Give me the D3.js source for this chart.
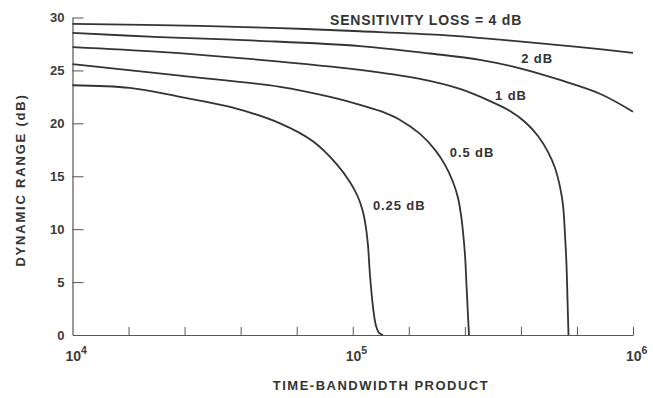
<!DOCTYPE html>
<html>
<head>
<meta charset="utf-8">
<script src="https://cdn.jsdelivr.net/npm/d3@7"></script>
<style>
  html, body { margin: 0; padding: 0; background: #fff; }
  svg { display: block; }
  text { font-family: "Liberation Sans", Arial, Helvetica, sans-serif; }
</style>
</head>
<body>
<svg id="chart" width="653" height="398"></svg>
<script>
// Dynamic range vs. time-bandwidth product, one curve per sensitivity loss.
// Each point: [time-bandwidth product, dynamic range in dB]
const loss4dB = [[1e4, 29.4], [2.85e4, 29.2], [5.5e4, 29.0], [1.061e5, 28.7], [2.048e5, 28.35],
                 [3.354e5, 27.9], [6.47e5, 27.2], [1e6, 26.65]];
const loss2dB = [[1e4, 28.55], [2.05e4, 28.15], [4.67e4, 27.8], [1.061e5, 27.3], [1.887e5, 26.6],
                 [2.846e5, 26.0], [3.953e5, 25.2], [5.49e5, 24.1], [7.62e5, 22.8], [1e6, 21.1]];
const loss1dB = [[1e4, 27.2], [2.05e4, 26.75], [4.67e4, 26.0], [1.061e5, 25.05], [1.738e5, 24.2],
                 [2.414e5, 23.25], [3.088e5, 22.1], [3.64e5, 21.17], [4.118e5, 20.13], [4.581e5, 18.81],
                 [4.973e5, 17.3], [5.268e5, 15.78], [5.49e5, 13.99], [5.626e5, 12.29], [5.72e5, 9.45],
                 [5.79e5, 6.62], [5.839e5, 3.31], [5.886e5, 0]];
const loss05dB = [[1e4, 25.6], [2.42e4, 24.5], [5.5e4, 23.45], [8.3e4, 22.5], [1.061e5, 21.75],
                  [1.251e5, 21.17], [1.475e5, 20.32], [1.738e5, 19.0], [1.966e5, 17.49], [2.134e5, 16.07],
                  [2.279e5, 14.46], [2.375e5, 12.95], [2.434e5, 11.34], [2.474e5, 9.74], [2.515e5, 7.56],
                  [2.546e5, 4.73], [2.577e5, 1.89], [2.599e5, 0]];
const loss025dB = [[1e4, 23.6], [1.6e4, 23.35], [2.42e4, 22.5], [3.65e4, 21.55], [5.5e4, 20.0],
                   [7.21e4, 18.3], [8.79e4, 16.1], [9.77e4, 14.46], [1.044e5, 13.04], [1.088e5, 11.63],
                   [1.115e5, 10.12], [1.133e5, 8.51], [1.152e5, 5.67], [1.181e5, 2.65], [1.211e5, 0.85],
                   [1.241e5, 0.19], [1.282e5, 0]];

const curveLabels = ["SENSITIVITY LOSS = 4 dB", "2 dB", "1 dB", "0.5 dB", "0.25 dB"];
// label anchor points in data units: [tbp, dB] (left end of the baseline)
const curveLabelPos = [[8.3e4, 29.25], [3.99e5, 25.7], [3.22e5, 22.2], [2.22e5, 16.8], [1.18e5, 11.8]];

const yTicks = [0, 5, 10, 15, 20, 25, 30];
const xDecades = [4, 5, 6];
const xMinorExp = [4.2, 4.4, 4.6, 4.8, 5, 5.2, 5.4, 5.6, 5.8, 6];
const xTitle = "TIME-BANDWIDTH PRODUCT";
const yTitle = "DYNAMIC RANGE (dB)";

const svg = d3.select("#chart");
const ink = "#333";
const axisInk = "#555";

const x = d3.scaleLog().domain([1e4, 1e6]).range([72.5, 633]);
const y = d3.scaleLinear().domain([0, 30]).range([335, 17.5]);

// x axis: ticks every 0.2 decade, pointing up into the plot
const xAxis = svg.append("g")
  .attr("transform", `translate(0,${y(0)})`)
  .call(d3.axisBottom(x)
    .tickValues(xMinorExp.map(e => Math.pow(10, e)))
    .tickSizeInner(-8).tickSizeOuter(0).tickFormat(""));
xAxis.select(".domain").attr("stroke", axisInk).attr("stroke-width", 1.2);
xAxis.selectAll(".tick line").attr("stroke", axisInk).attr("stroke-width", 1);

// y axis: ticks pointing right, labels at left
const yAxis = svg.append("g")
  .attr("transform", `translate(${x(1e4)},0)`)
  .call(d3.axisLeft(y).tickValues(yTicks).tickSizeInner(-11).tickSizeOuter(0)
    .tickPadding(8).tickFormat(d3.format("d")));
yAxis.select(".domain").attr("stroke", axisInk).attr("stroke-width", 1.2);
yAxis.selectAll(".tick line").attr("stroke", axisInk).attr("stroke-width", 1)
  .filter(d => d === 0).remove();
yAxis.selectAll(".tick text")
  .attr("fill", "#3a3a3a").attr("font-size", 13).attr("font-weight", "bold")
  .attr("font-family", "Liberation Sans, Arial, sans-serif");

// decade labels with superscript exponents
const decLab = svg.append("g");
xDecades.forEach(e => {
  const t = decLab.append("text")
    .attr("x", x(Math.pow(10, e)) - 7).attr("y", 361)
    .attr("fill", "#3a3a3a").attr("font-size", 14).attr("font-weight", "bold");
  t.append("tspan").text("10");
  t.append("tspan").attr("dy", -7).attr("font-size", 10.5).text(e);
});

// curves
const line = d3.line()
  .x(d => x(d[0])).y(d => y(d[1]))
  .curve(d3.curveCatmullRom.alpha(0.5));
[loss4dB, loss2dB, loss1dB, loss05dB, loss025dB].forEach(s => {
  svg.append("path").datum(s)
    .attr("d", line)
    .attr("fill", "none").attr("stroke", ink)
    .attr("stroke-width", 1.8).attr("stroke-linejoin", "round");
});

// curve labels
svg.append("g").selectAll("text").data(curveLabels).join("text")
  .attr("x", (d, i) => x(curveLabelPos[i][0]))
  .attr("y", (d, i) => y(curveLabelPos[i][1]))
  .attr("fill", ink).attr("font-weight", "bold")
  .attr("font-size", (d, i) => i === 0 ? 14 : 13)
  .attr("letter-spacing", (d, i) => i === 0 ? 0.8 : 0.9)
  .text(d => d);

// axis titles
svg.append("text")
  .attr("x", 381).attr("y", 390).attr("text-anchor", "middle")
  .attr("fill", ink).attr("font-size", 13).attr("font-weight", "bold")
  .attr("letter-spacing", 1.5)
  .text(xTitle);
svg.append("text")
  .attr("transform", "translate(25,180) rotate(-90)")
  .attr("text-anchor", "middle")
  .attr("fill", ink).attr("font-size", 13).attr("font-weight", "bold")
  .attr("letter-spacing", 1.8)
  .text(yTitle);
</script>
</body>
</html>
